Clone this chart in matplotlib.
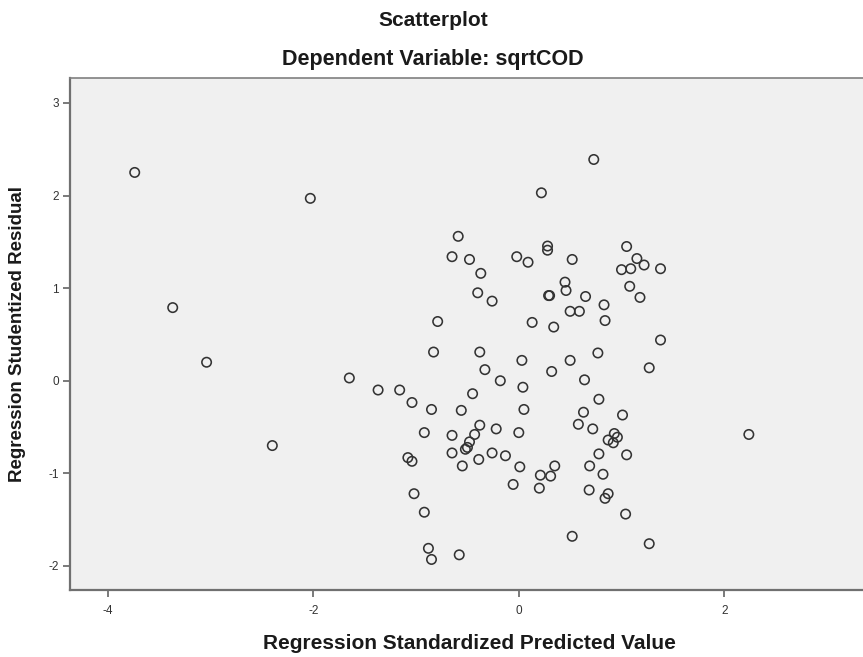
import matplotlib
matplotlib.use("Agg")
import matplotlib.pyplot as plt

plt.rcParams['font.family'] = ['Liberation Sans', 'DejaVu Sans']

# Regression Standardized Predicted Value
pred = [-3.74, -2.03, -3.37, -3.04, -1.65, -1.37, -1.16, -2.40,
        -0.59, -0.65, -0.48, -0.37, -0.02, 0.09, -0.40, -0.26, -0.79, 0.13,
        -0.83, -0.38, 0.03, -0.33, -0.18, 0.04, -1.04, -0.85, -0.56, -0.45,
        0.05, -0.92, -0.65, -0.38, -0.43, -0.48, -0.52, -0.50, -0.22, 0.00,
        -0.65, -0.55, -0.39, -0.26, -0.13, 0.01, -0.055, -1.08, -1.04, -1.02,
        -0.92, -0.88, -0.85, -0.58, 0.21, 0.20, 0.73, 0.22, 0.28, 0.28,
        0.52, 1.00, 0.45, 0.46, 0.29, 0.30, 0.65, 0.83, 0.50, 0.59, 0.84,
        0.34, 0.50, 0.77, 0.32, 1.05, 1.15, 1.09, 1.22, 1.38, 1.08, 1.18,
        1.38, 0.64, 1.27, 0.78, 0.63, 1.01, 0.58, 0.72, 0.93, 0.96, 0.87,
        0.92, 0.78, 1.05, 0.35, 0.31, 0.69, 0.82, 0.685, 0.87, 0.84, 1.04,
        0.52, 1.27, 2.24]

# Regression Studentized Residual
resid = [2.25, 1.97, 0.79, 0.20, 0.03, -0.10, -0.10, -0.70,
         1.56, 1.34, 1.31, 1.16, 1.34, 1.28, 0.95, 0.86, 0.64, 0.63,
         0.31, 0.31, 0.22, 0.12, 0.00, -0.07, -0.235, -0.31, -0.32, -0.14,
         -0.31, -0.56, -0.59, -0.48, -0.58, -0.66, -0.74, -0.72, -0.52, -0.56,
         -0.78, -0.92, -0.85, -0.78, -0.81, -0.93, -1.12, -0.83, -0.87, -1.22,
         -1.42, -1.81, -1.93, -1.88, -1.02, -1.16, 2.39, 2.03, 1.455, 1.41,
         1.31, 1.20, 1.065, 0.975, 0.92, 0.92, 0.91, 0.82, 0.75, 0.75, 0.65,
         0.58, 0.22, 0.30, 0.10, 1.45, 1.32, 1.21, 1.25, 1.21, 1.02, 0.90,
         0.44, 0.01, 0.14, -0.20, -0.34, -0.37, -0.47, -0.52, -0.57, -0.61, -0.64,
         -0.67, -0.79, -0.80, -0.92, -1.03, -0.92, -1.01, -1.18, -1.22, -1.27, -1.44,
         -1.68, -1.76, -0.58]

x_ticks = [-4, -2, 0, 2]
y_ticks = [-2, -1, 0, 1, 2, 3]

W, H = 863, 657
fig = plt.figure(figsize=(W / 100, H / 100), dpi=100)
left, right, top, bottom = 70, 869, 78, 590
ax = fig.add_axes([left / W, 1 - bottom / H, (right - left) / W, (bottom - top) / H])
ax.set_facecolor('#f0f0f0')

ax.scatter(pred, resid, s=46, facecolors='none', edgecolors='#333333',
           linewidths=1.15, zorder=3)

ax.set_xlim(-4.37, 3.41)
ax.set_ylim(-2.26, 3.27)
ax.set_xticks(x_ticks)
ax.set_yticks(y_ticks)
ax.set_xticklabels([str(t) for t in x_ticks])
ax.set_yticklabels([str(t) for t in y_ticks])

for side in ['left', 'bottom']:
    ax.spines[side].set_color('#707070')
    ax.spines[side].set_linewidth(1.6)
ax.spines['top'].set_color('#808080')
ax.spines['top'].set_linewidth(1.2)
ax.spines['right'].set_visible(False)

ax.tick_params(axis='both', direction='out', length=5, width=1.3,
               color='#707070', labelsize=8.5, labelcolor='#333333')
ax.tick_params(axis='x', pad=6)
ax.tick_params(axis='y', pad=3)

ax.set_xlabel('Regression Standardized Predicted Value', fontsize=15,
              fontweight='bold', color='#1a1a1a', labelpad=12)
ax.set_ylabel('Regression Studentized Residual', fontsize=13.5,
              fontweight='bold', color='#1a1a1a', labelpad=16)

fig.text(433 / W, 1 - 20 / H, 'Scatterplot', ha='center', va='center',
         fontsize=15, fontweight='bold', color='#1a1a1a')
fig.text(433 / W, 1 - 60 / H, 'Dependent Variable: sqrtCOD', ha='center',
         va='center', fontsize=15.5, fontweight='bold', color='#1a1a1a')

fig.savefig('out.png', dpi=100, facecolor='white')
